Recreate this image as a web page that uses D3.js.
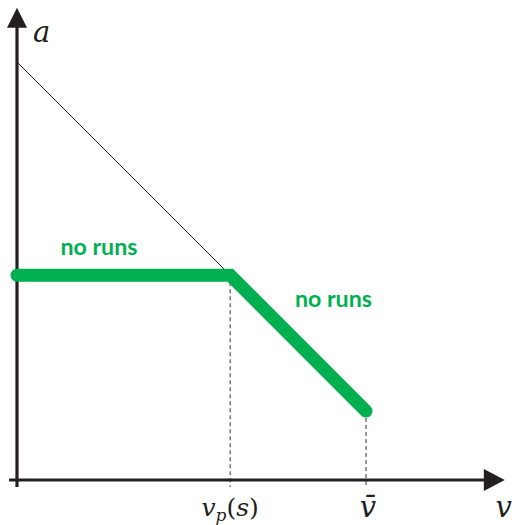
<!DOCTYPE html>
<html>
<head>
<meta charset="utf-8">
<script src="https://cdn.jsdelivr.net/npm/d3@7/dist/d3.min.js"></script>
<style>
  html, body { margin: 0; padding: 0; background: #fff; }
  svg { display: block; }
</style>
</head>
<body>
<script>
// Payoff-space sketch: feasible line a = aMax - v and the "no runs" frontier.
const aMax = 10;                       // intercept of the thin budget line
const vP = 5.1;                        // kink value v_p(s)
const vBar = 8.35;                     // upper bound v̄
const frontierV = [0, vP, vBar];       // frontier breakpoints along v
const frontierA = [aMax - vP, aMax - vP, aMax - vBar];
const budgetV = [0, vP];
const budgetA = [aMax, aMax - vP];
const tickV = [vP, vBar];
const regionLabels = ["no runs", "no runs"];

const W = 514, H = 525;
const svg = d3.select("body").append("svg").attr("width", W).attr("height", H);

const x = d3.scaleLinear().domain([0, 10]).range([17, 435]);
const y = d3.scaleLinear().domain([0, 10]).range([480, 62]);

const ink = "#231f20";
const green = "#00b050";

// dashed guides from the frontier down to the v axis
const guides = tickV.map(v => ({ v, a: v === vP ? aMax - vP : aMax - vBar }));
svg.selectAll("line.guide").data(guides).join("line")
  .attr("class", "guide")
  .attr("x1", d => x(d.v)).attr("x2", d => x(d.v))
  .attr("y1", d => y(d.a)).attr("y2", y(-0.17))
  .attr("stroke", "#555").attr("stroke-width", 1.2)
  .attr("stroke-dasharray", "4,3");

// thin budget line
const line = d3.line().x(d => x(d[0])).y(d => y(d[1]));
svg.append("path")
  .attr("d", line(d3.zip(budgetV, budgetA)))
  .attr("fill", "none").attr("stroke", ink).attr("stroke-width", 1);

// axes with arrowheads
svg.append("line")
  .attr("x1", x(0)).attr("x2", x(0))
  .attr("y1", y(-0.17)).attr("y2", y(11.1))
  .attr("stroke", ink).attr("stroke-width", 3.2);
svg.append("line")
  .attr("x1", x(-0.19)).attr("x2", x(11.3))
  .attr("y1", y(0)).attr("y2", y(0))
  .attr("stroke", ink).attr("stroke-width", 3.2);

const yTip = [x(0), y(11.3)];
svg.append("path")
  .attr("d", `M${yTip[0]},${yTip[1]} L${yTip[0] - 10},${yTip[1] + 20} L${yTip[0] + 10},${yTip[1] + 20} Z`)
  .attr("fill", ink);
const xTip = [x(11.67), y(0)];
svg.append("path")
  .attr("d", `M${xTip[0]},${xTip[1]} L${xTip[0] - 21},${xTip[1] - 11} L${xTip[0] - 21},${xTip[1] + 11} Z`)
  .attr("fill", ink);

// "no runs" frontier
svg.append("path")
  .attr("d", line(d3.zip(frontierV, frontierA)))
  .attr("fill", "none").attr("stroke", green).attr("stroke-width", 13)
  .attr("stroke-linecap", "round").attr("stroke-linejoin", "miter");

// region labels
const labelPos = [
  { v: 1.96, a: 5.38 },
  { v: 7.57, a: 4.14 }
];
svg.selectAll("text.region").data(regionLabels).join("text")
  .attr("class", "region")
  .attr("x", (d, i) => x(labelPos[i].v))
  .attr("y", (d, i) => y(labelPos[i].a))
  .attr("text-anchor", "middle")
  .attr("font-family", "Lato, 'Open Sans', sans-serif")
  .attr("font-weight", 700)
  .attr("font-size", 23.2)
  .attr("fill", green)
  .text(d => d);

// math labels
const mathFont = "'DejaVu Serif', serif";
svg.append("text")
  .attr("x", x(0) + 16).attr("y", 42)
  .attr("font-family", mathFont).attr("font-style", "italic")
  .attr("font-size", 29).attr("fill", ink)
  .text("a");

svg.append("text")
  .attr("x", W - 2).attr("y", 517)
  .attr("text-anchor", "end")
  .attr("font-family", mathFont).attr("font-style", "italic")
  .attr("font-size", 29).attr("fill", ink)
  .text("v");

const vpLabel = svg.append("text")
  .attr("x", x(vP)).attr("y", 516)
  .attr("text-anchor", "middle")
  .attr("font-family", mathFont).attr("font-size", 25).attr("fill", ink);
vpLabel.append("tspan").attr("font-style", "italic").text("v");
vpLabel.append("tspan").attr("font-style", "italic").attr("font-size", 17).attr("dy", 5).text("p");
vpLabel.append("tspan").attr("dy", -5).text("(");
vpLabel.append("tspan").attr("font-style", "italic").text("s");
vpLabel.append("tspan").text(")");

svg.append("text")
  .attr("x", x(vBar) + 2).attr("y", 517)
  .attr("text-anchor", "middle")
  .attr("font-family", mathFont).attr("font-style", "italic")
  .attr("font-size", 29).attr("fill", ink)
  .text("v\u0304");
</script>
</body>
</html>
